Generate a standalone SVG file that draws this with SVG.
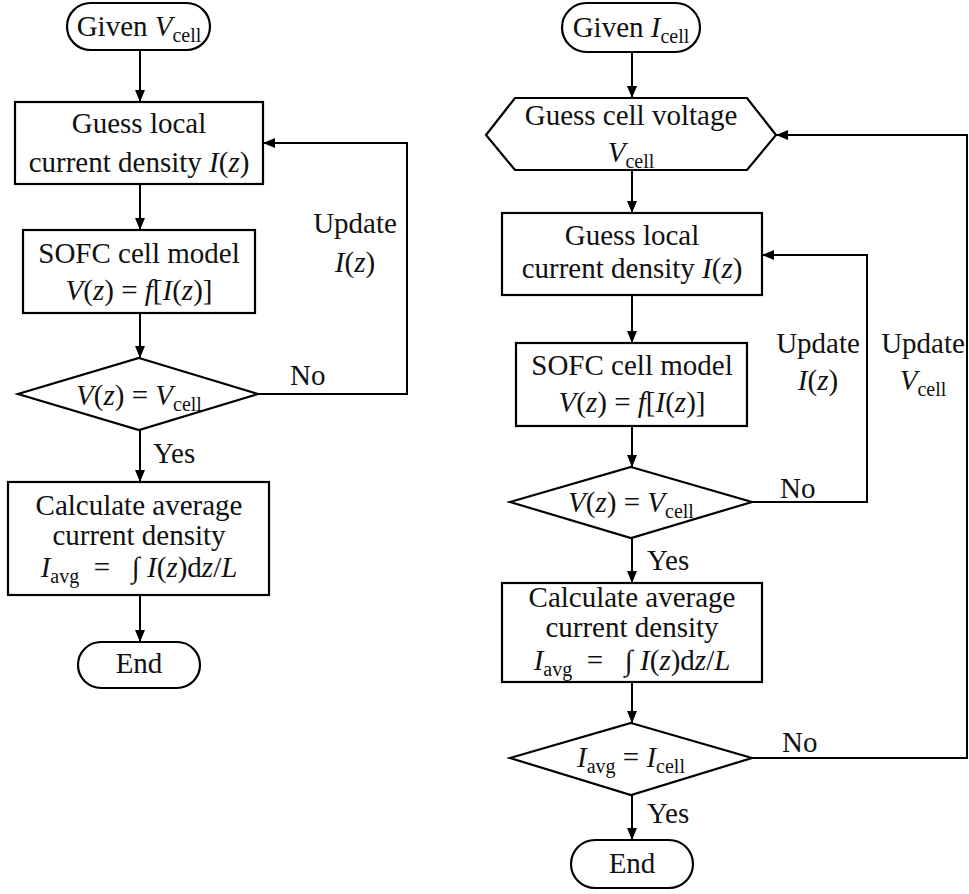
<svg xmlns="http://www.w3.org/2000/svg" width="969" height="894" viewBox="0 0 969 894">
<defs>
<marker id="ah" viewBox="0 0 12 10" refX="12" refY="5" markerWidth="12" markerHeight="11" markerUnits="userSpaceOnUse" orient="auto">
<path d="M0,0 L12,5 L0,10 z" fill="#000"/>
</marker>
<style>
.s{fill:#fff;stroke:#000;stroke-width:2.2}
.c{fill:none;stroke:#000;stroke-width:2;marker-end:url(#ah)}
text{font-family:'Liberation Serif','Times New Roman',serif;font-size:29px;font-weight:400;fill:#111}
.m{text-anchor:middle}
.i{font-style:italic}
.sub{font-size:20px}
</style>
</defs>
<rect width="969" height="894" fill="#fff"/>

<!-- Left flowchart -->
<g id="L_start"><rect class="s" x="67" y="3" width="143" height="47" rx="23.5"/>
<text class="m" x="139" y="36">Given <tspan class="i">V</tspan><tspan class="sub" dy="6">cell</tspan></text></g>
<g id="L_guess"><rect class="s" x="15" y="102" width="248" height="82"/>
<text class="m" x="139" y="133">Guess local</text>
<text class="m" x="139" y="172">current density <tspan class="i">I</tspan>(<tspan class="i">z</tspan>)</text></g>
<g id="L_sofc"><rect class="s" x="23" y="230" width="232" height="83"/>
<text class="m" x="139" y="263">SOFC cell model</text>
<text class="m" x="139" y="300"><tspan class="i">V</tspan>(<tspan class="i">z</tspan>) = <tspan class="i">f</tspan>[<tspan class="i">I</tspan>(<tspan class="i">z</tspan>)]</text></g>
<g id="L_dec"><polygon class="s" points="139,358 258,394 139,430 18,394"/>
<text class="m" x="139" y="405"><tspan class="i">V</tspan>(<tspan class="i">z</tspan>) = <tspan class="i">V</tspan><tspan class="sub" dy="6">cell</tspan></text></g>
<g id="L_calc"><rect class="s" x="8" y="482" width="261" height="113"/>
<text class="m" x="139" y="515">Calculate average</text>
<text class="m" x="139" y="545">current density</text>
<text class="m" x="139" y="577"><tspan class="i">I</tspan><tspan class="sub" dy="6">avg</tspan><tspan dy="-6">&#160; =&#160;&#160; ∫ </tspan><tspan class="i">I</tspan>(<tspan class="i">z</tspan>)d<tspan class="i">z</tspan>/<tspan class="i">L</tspan></text></g>
<g id="L_end"><rect class="s" x="78" y="642" width="122" height="46" rx="23"/>
<text class="m" x="139" y="673">End</text></g>

<!-- Right flowchart -->
<g id="R_start"><rect class="s" x="562" y="3" width="138" height="49" rx="24.5"/>
<text class="m" x="631" y="37">Given <tspan class="i">I</tspan><tspan class="sub" dy="6">cell</tspan></text></g>
<g id="R_hex"><polygon class="s" points="515,98 747,98 776,135 747,170 515,170 486,135"/>
<text class="m" x="631" y="125">Guess cell voltage</text>
<text class="m" x="631" y="162"><tspan class="i">V</tspan><tspan class="sub" dy="6">cell</tspan></text></g>
<g id="R_guess"><rect class="s" x="502" y="213" width="260" height="82"/>
<text class="m" x="632" y="245">Guess local</text>
<text class="m" x="632" y="278">current density <tspan class="i">I</tspan>(<tspan class="i">z</tspan>)</text></g>
<g id="R_sofc"><rect class="s" x="516" y="343" width="231" height="83"/>
<text class="m" x="632" y="375">SOFC cell model</text>
<text class="m" x="632" y="412"><tspan class="i">V</tspan>(<tspan class="i">z</tspan>) = <tspan class="i">f</tspan>[<tspan class="i">I</tspan>(<tspan class="i">z</tspan>)]</text></g>
<g id="R_dec1"><polygon class="s" points="631,467 752,502 631,538 510,502"/>
<text class="m" x="631" y="512"><tspan class="i">V</tspan>(<tspan class="i">z</tspan>) = <tspan class="i">V</tspan><tspan class="sub" dy="6">cell</tspan></text></g>
<g id="R_calc"><rect class="s" x="502" y="583" width="260" height="99"/>
<text class="m" x="632" y="607">Calculate average</text>
<text class="m" x="632" y="637">current density</text>
<text class="m" x="632" y="670"><tspan class="i">I</tspan><tspan class="sub" dy="6">avg</tspan><tspan dy="-6">&#160; =&#160;&#160; ∫ </tspan><tspan class="i">I</tspan>(<tspan class="i">z</tspan>)d<tspan class="i">z</tspan>/<tspan class="i">L</tspan></text></g>
<g id="R_dec2"><polygon class="s" points="631,723 752,758 631,795 510,758"/>
<text class="m" x="631" y="767"><tspan class="i">I</tspan><tspan class="sub" dy="6">avg</tspan><tspan dy="-6"> = </tspan><tspan class="i">I</tspan><tspan class="sub" dy="6">cell</tspan></text></g>
<g id="R_end"><rect class="s" x="571" y="840" width="122" height="48" rx="24"/>
<text class="m" x="632" y="873">End</text></g>

<!-- Connectors -->
<g id="connectors">
<line class="c" x1="140" y1="50" x2="140" y2="102"/>
<line class="c" x1="140" y1="184" x2="140" y2="230"/>
<line class="c" x1="140" y1="313" x2="140" y2="358"/>
<line class="c" x1="140" y1="430" x2="140" y2="482"/>
<line class="c" x1="140" y1="595" x2="140" y2="642"/>
<polyline class="c" points="258,394 407,394 407,143 263,143"/>

<line class="c" x1="632" y1="52" x2="632" y2="98"/>
<line class="c" x1="632" y1="170" x2="632" y2="213"/>
<line class="c" x1="632" y1="295" x2="632" y2="343"/>
<line class="c" x1="632" y1="426" x2="632" y2="467"/>
<line class="c" x1="632" y1="538" x2="632" y2="583"/>
<line class="c" x1="632" y1="682" x2="632" y2="723"/>
<line class="c" x1="632" y1="795" x2="632" y2="840"/>
<polyline class="c" points="752,502 867,502 867,255 762,255"/>
<polyline class="c" points="752,758 967,758 967,135 776,135"/>
</g>

<!-- Connector labels -->
<g id="labels">
<text x="290" y="385">No</text>
<text class="m" x="355" y="233">Update</text>
<text class="m" x="355" y="272"><tspan class="i">I</tspan>(<tspan class="i">z</tspan>)</text>
<text x="153" y="463">Yes</text>
<text x="780" y="498">No</text>
<text class="m" x="818" y="353">Update</text>
<text class="m" x="818" y="390"><tspan class="i">I</tspan>(<tspan class="i">z</tspan>)</text>
<text class="m" x="923" y="353">Update</text>
<text class="m" x="923" y="390"><tspan class="i">V</tspan><tspan class="sub" dy="6">cell</tspan></text>
<text x="647" y="570">Yes</text>
<text x="782" y="752">No</text>
<text x="647" y="823">Yes</text>
</g>
</svg>
